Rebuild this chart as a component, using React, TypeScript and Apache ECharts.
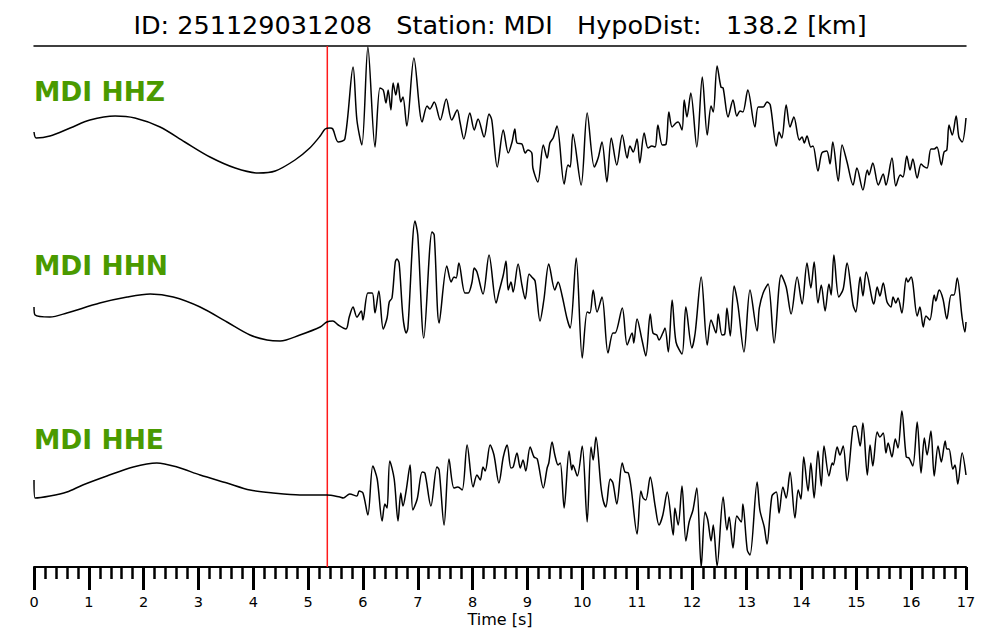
import React, { useEffect, useRef } from "react";
import * as echarts from "echarts";

const titleText = "ID: 251129031208   Station: MDI   HypoDist:   138.2 [km]";
const channelNames = ["MDI HHZ", "MDI HHN", "MDI HHE"];
const pickTime = 5.35;
const timeMin = 0;
const timeMax = 17;

// [time (s), amplitude (arbitrary, pixel-like units)]
const hhzTrace = [
  [0,-12],[0.04,-18],[0.29,-16],[0.66,-8],[1.02,0],[1.48,4],[1.84,2],[2.30,-7],[2.75,-22],[3.21,-37],[3.67,-48],[4.09,-53],[4.40,-51],[4.76,-40],[5.03,-28],[5.22,-16],[5.31,-9],[5.40,-8],[5.45,-9],[5.55,-22],[5.67,-19],[5.82,53],[5.89,0],[5.98,-25],[6.09,73],[6.22,-27],[6.31,32],[6.37,30],[6.42,17],[6.46,30],[6.51,10],[6.55,37],[6.60,25],[6.64,37],[6.69,18],[6.73,23],[6.80,-6],[6.93,62],[7.08,-2],[7.17,14],[7.22,11],[7.30,18],[7.41,0],[7.52,21],[7.62,0],[7.72,10],[7.77,-2],[7.84,-19],[7.95,7],[8.03,-10],[8.10,1],[8.21,-17],[8.30,6],[8.35,0],[8.45,-47],[8.56,-10],[8.65,-33],[8.72,-22],[8.77,-9],[8.81,-23],[8.90,-24],[8.96,-33],[9.01,-30],[9.08,-33],[9.10,-48],[9.19,-62],[9.29,-25],[9.36,-38],[9.41,-23],[9.47,-18],[9.54,-6],[9.67,-64],[9.74,-45],[9.78,-47],[9.83,-14],[9.98,-65],[10.09,7],[10.22,-47],[10.29,-38],[10.36,-22],[10.45,-62],[10.53,-18],[10.63,-45],[10.73,-15],[10.82,-38],[10.87,-26],[10.93,-32],[11.00,-19],[11.05,-43],[11.13,-13],[11.20,-28],[11.27,-26],[11.33,-27],[11.38,-5],[11.46,-25],[11.53,-24],[11.58,8],[11.64,-7],[11.71,-3],[11.75,-2],[11.82,-10],[11.86,20],[11.91,3],[11.98,27],[12.09,-27],[12.19,43],[12.28,-15],[12.35,14],[12.39,8],[12.46,54],[12.53,33],[12.57,32],[12.66,3],[12.75,20],[12.82,4],[12.88,9],[12.93,8],[13.02,30],[13.15,-7],[13.21,13],[13.30,13],[13.37,18],[13.43,15],[13.54,-26],[13.59,-12],[13.64,-18],[13.72,15],[13.79,-7],[13.86,3],[13.96,-20],[14.01,-17],[14.05,-23],[14.10,-16],[14.17,-27],[14.21,-26],[14.30,-51],[14.37,-33],[14.46,-31],[14.52,-44],[14.57,-22],[14.67,-61],[14.74,-25],[14.83,-42],[14.94,-65],[15.01,-48],[15.12,-70],[15.20,-50],[15.23,-55],[15.30,-43],[15.40,-65],[15.49,-54],[15.54,-65],[15.65,-38],[15.72,-66],[15.80,-55],[15.85,-57],[15.92,-36],[15.98,-50],[16.03,-39],[16.11,-58],[16.18,-44],[16.22,-46],[16.29,-48],[16.36,-29],[16.42,-29],[16.47,-27],[16.55,-45],[16.60,-32],[16.65,-30],[16.69,-5],[16.75,-15],[16.82,4],[16.87,-17],[16.93,-22],[17.00,2]
];

const hhnTrace = [
  [0,-12],[0.02,-20],[0.29,-22],[0.60,-18],[1.20,-8],[1.70,-2],[2.12,1],[2.54,-2],[3.03,-12],[3.52,-27],[3.94,-40],[4.25,-45],[4.49,-46],[4.85,-40],[5.22,-32],[5.34,-27],[5.45,-26],[5.55,-30],[5.69,-34],[5.75,-22],[5.82,-12],[5.89,-22],[5.97,-16],[6.00,-25],[6.09,2],[6.17,2],[6.22,-18],[6.29,4],[6.37,-34],[6.44,-23],[6.48,-7],[6.53,-3],[6.59,33],[6.62,36],[6.66,32],[6.73,-22],[6.79,-38],[6.82,-33],[6.95,74],[7.00,60],[7.11,-43],[7.26,63],[7.30,60],[7.39,-28],[7.53,29],[7.61,13],[7.66,18],[7.70,17],[7.75,32],[7.86,2],[7.92,2],[7.99,13],[8.03,27],[8.08,23],[8.19,1],[8.30,40],[8.43,-8],[8.48,3],[8.56,20],[8.61,34],[8.65,5],[8.70,13],[8.74,3],[8.83,31],[8.90,10],[8.96,-4],[9.03,21],[9.08,18],[9.14,14],[9.23,-26],[9.30,-5],[9.39,31],[9.50,5],[9.56,13],[9.63,0],[9.72,-23],[9.78,-33],[9.89,37],[10.00,-63],[10.09,-17],[10.14,-18],[10.20,5],[10.27,-17],[10.36,-2],[10.47,-58],[10.56,-38],[10.60,-38],[10.73,-13],[10.82,-50],[10.91,-38],[10.94,-48],[11.00,-24],[11.09,-45],[11.16,-61],[11.24,-19],[11.29,-38],[11.36,-40],[11.40,-45],[11.47,-38],[11.51,-33],[11.57,-57],[11.64,-5],[11.71,-47],[11.82,-59],[11.89,-12],[12.00,-53],[12.06,-38],[12.17,18],[12.28,-50],[12.35,-25],[12.44,-38],[12.48,-19],[12.55,-40],[12.60,-39],[12.64,-13],[12.70,-41],[12.77,9],[12.84,-10],[12.95,-57],[13.06,5],[13.19,-36],[13.23,-13],[13.30,2],[13.39,11],[13.50,-48],[13.63,20],[13.72,8],[13.81,-19],[13.92,18],[14.01,-9],[14.10,32],[14.17,7],[14.23,33],[14.30,-8],[14.36,10],[14.43,-16],[14.50,11],[14.54,0],[14.59,40],[14.68,-2],[14.76,6],[14.83,32],[14.94,-10],[14.99,-17],[15.07,18],[15.12,-1],[15.18,23],[15.29,-5],[15.32,-9],[15.38,8],[15.43,-1],[15.49,12],[15.56,-7],[15.63,-12],[15.67,-2],[15.72,-8],[15.76,-3],[15.83,-18],[15.91,17],[15.94,13],[16.00,18],[16.03,12],[16.11,-21],[16.16,-12],[16.22,-32],[16.27,-21],[16.34,-25],[16.42,0],[16.45,-6],[16.51,5],[16.58,-4],[16.65,-24],[16.73,0],[16.78,0],[16.84,17],[16.93,-23],[16.98,-37],[17.00,-27]
];

const hheTrace = [
  [0,7],[0.02,-11],[0.29,-9],[0.60,-5],[0.89,2],[1.33,11],[1.81,20],[2.24,24],[2.61,20],[3.03,12],[3.52,4],[3.94,-3],[4.36,-6],[4.85,-8],[5.34,-8],[5.58,-10],[5.64,-11],[5.76,-7],[5.89,-9],[5.93,-4],[6.00,-6],[6.09,-28],[6.18,21],[6.26,8],[6.35,-34],[6.40,-17],[6.44,-21],[6.49,26],[6.57,8],[6.64,-34],[6.69,-6],[6.73,-19],[6.79,-3],[6.86,22],[6.91,-23],[6.99,-12],[7.08,15],[7.13,14],[7.24,-19],[7.35,20],[7.39,17],[7.48,-38],[7.57,28],[7.66,-1],[7.73,0],[7.81,-3],[7.90,42],[8.01,0],[8.08,12],[8.14,7],[8.19,20],[8.23,16],[8.32,42],[8.39,32],[8.48,4],[8.56,30],[8.63,42],[8.70,19],[8.74,20],[8.81,34],[8.87,19],[8.92,27],[8.97,16],[9.05,40],[9.12,30],[9.18,28],[9.29,-1],[9.36,19],[9.39,24],[9.45,45],[9.50,32],[9.56,22],[9.60,24],[9.67,-21],[9.76,36],[9.81,17],[9.83,22],[9.91,11],[10.00,41],[10.09,-35],[10.16,40],[10.20,27],[10.25,50],[10.34,1],[10.38,-13],[10.43,-20],[10.51,8],[10.56,4],[10.63,-17],[10.73,24],[10.78,15],[10.84,14],[10.89,0],[11.00,-47],[11.07,-4],[11.11,-11],[11.16,-13],[11.24,10],[11.33,-19],[11.40,-38],[11.47,-28],[11.55,-5],[11.66,-48],[11.69,-21],[11.75,-38],[11.82,1],[11.89,-54],[11.95,-35],[12.02,-23],[12.09,-1],[12.17,-80],[12.24,-25],[12.29,-33],[12.35,-54],[12.39,-38],[12.46,-79],[12.57,-10],[12.64,-43],[12.68,-30],[12.75,-61],[12.82,-29],[12.90,-35],[12.93,-17],[13.01,-63],[13.06,-68],[13.19,5],[13.24,-23],[13.32,-40],[13.37,-57],[13.46,-9],[13.54,-5],[13.59,-26],[13.66,0],[13.72,-11],[13.79,15],[13.88,-31],[13.94,-3],[13.99,-12],[14.04,30],[14.12,-4],[14.17,24],[14.23,-11],[14.30,36],[14.36,1],[14.41,41],[14.50,11],[14.56,24],[14.58,22],[14.65,40],[14.70,32],[14.76,41],[14.83,6],[14.94,60],[14.99,61],[15.07,41],[15.12,64],[15.20,12],[15.25,42],[15.30,21],[15.38,55],[15.43,50],[15.49,54],[15.54,34],[15.58,44],[15.65,30],[15.71,48],[15.76,39],[15.83,76],[15.91,30],[15.96,29],[16.03,21],[16.11,65],[16.18,14],[16.24,49],[16.29,32],[16.36,56],[16.42,11],[16.49,41],[16.55,25],[16.62,46],[16.65,38],[16.69,38],[16.76,18],[16.80,22],[16.85,3],[16.93,34],[17.00,12]
];

const traces = [hhzTrace, hhnTrace, hheTrace];

export default function App() {
  const ref = useRef<HTMLDivElement>(null);
  useEffect(() => {
    if (!ref.current) return;
    const chart = echarts.init(ref.current, null, { renderer: "svg" });
    const gridTops = [40, 215, 407];
    const grids: any[] = gridTops.map((t) => ({ left: 34, right: 34, top: t, height: 160 }));
    grids.push({ left: 34, right: 34, top: 46, bottom: 73 });
    const xAxes: any[] = grids.map((_, i) => ({
      type: "value",
      gridIndex: i,
      min: timeMin,
      max: timeMax,
      interval: 1,
      show: i === 2 || i === 3,
      position: i === 3 ? "top" : "bottom",
      splitLine: { show: false },
      axisLine: { show: true, onZero: false, lineStyle: { color: "#000", width: i === 3 ? 1.5 : 2 } },
      axisTick: { show: i === 2, length: 23, lineStyle: { color: "#000", width: 3 } },
      minorTick: { show: i === 2, splitNumber: 5, length: 12, lineStyle: { color: "#000", width: 2.5 } },
      axisLabel: { show: i === 2, color: "#000", fontSize: 14.5, margin: 27, lineHeight: 15, fontFamily: "DejaVu Sans" },
      name: i === 2 ? "Time [s]" : "",
      nameLocation: "middle",
      nameGap: 44,
      nameTextStyle: { color: "#000", fontSize: 16, lineHeight: 16, fontFamily: "DejaVu Sans" },
    }));
    const yAxes: any[] = grids.map((_, i) => ({
      type: "value",
      gridIndex: i,
      min: i === 3 ? 0 : -80,
      max: i === 3 ? 1 : 80,
      show: false,
    }));
    const series: any[] = traces.map((d, i) => ({
      type: "line",
      xAxisIndex: i,
      yAxisIndex: i,
      data: d,
      showSymbol: false,
      symbol: "none",
      smooth: 0.3,
      lineStyle: { color: "#000", width: 1.5 },
      z: 3,
    }));
    series.push({
      type: "line",
      xAxisIndex: 3,
      yAxisIndex: 3,
      data: [[pickTime, 0], [pickTime, 1]],
      symbol: "none",
      lineStyle: { color: "#ff1a1a", width: 1.5 },
      z: 2,
    });
    const labelTops = [78, 252, 426];
    chart.setOption({
      animation: false,
      backgroundColor: "#fff",
      title: {
        text: titleText,
        left: "center",
        top: 7,
        textStyle: { fontSize: 25.5, fontWeight: "normal", color: "#000", fontFamily: "DejaVu Sans" },
      },
      grid: grids,
      xAxis: xAxes,
      yAxis: yAxes,
      series,
      graphic: channelNames.map((n, i) => ({
        type: "text",
        left: 34,
        top: labelTops[i],
        style: { text: n, fill: "#4a9a00", font: "bold 26.5px 'DejaVu Sans'" },
      })),
    });
    return () => chart.dispose();
  }, []);
  return (
    <div
      ref={ref}
      style={{ position: "absolute", left: 0, top: 0, width: 1000, height: 640 }}
    />
  );
}
